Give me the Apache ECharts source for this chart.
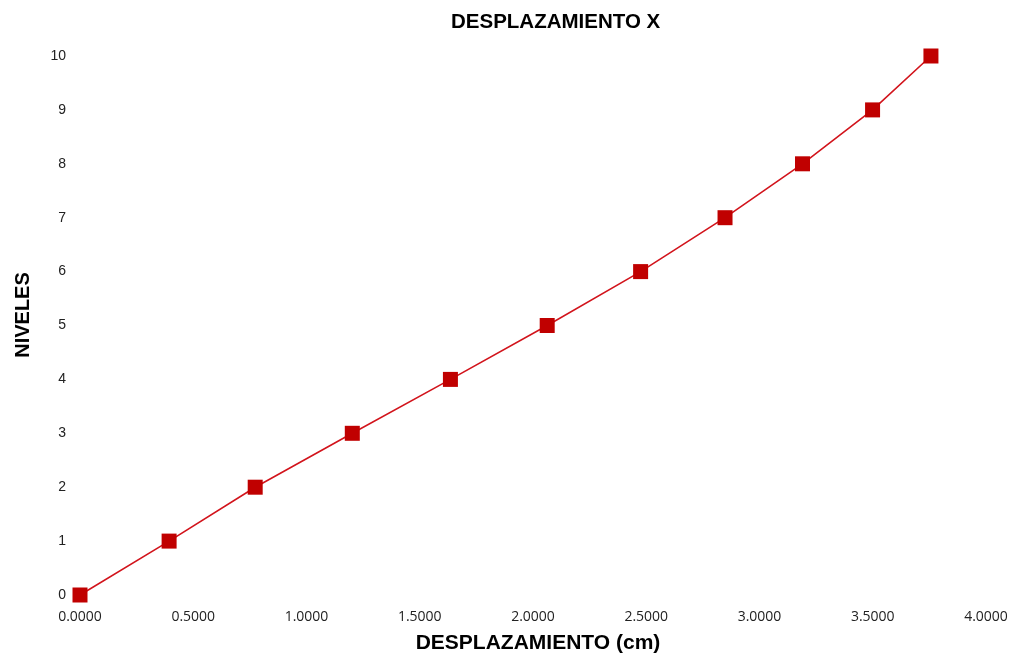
<!DOCTYPE html>
<html>
<head>
<meta charset="utf-8">
<script src="https://cdn.jsdelivr.net/npm/echarts@6/dist/echarts.min.js"></script>
<style>html,body{margin:0;padding:0;background:#fff}#c{width:1013px;height:655px}</style>
</head>
<body>
<div id="c"></div>
<script>
const title = 'DESPLAZAMIENTO X';
const xName = 'DESPLAZAMIENTO (cm)';
const yName = 'NIVELES';
const desplazamiento = [0.0000, 0.3934, 0.7735, 1.2022, 1.6354, 2.0627, 2.4751, 2.8478, 3.1898, 3.4992, 3.7569];
const niveles = [0, 1, 2, 3, 4, 5, 6, 7, 8, 9, 10];

const chart = echarts.init(document.getElementById('c'));
chart.setOption({
  backgroundColor: '#ffffff',
  animation: false,
  title: {
    text: title, left: 446, top: 7,
    textStyle: { fontFamily: 'Liberation Sans', fontWeight: 'bold', fontSize: 20.5, color: '#000' }
  },
  grid: { left: 80, right: 27, top: 56, bottom: 60, containLabel: false, outerBoundsMode: 'none' },
  xAxis: {
    type: 'value', min: 0, max: 4, interval: 0.5,
    name: xName, nameLocation: 'middle', nameGap: 38,
    nameTextStyle: { fontFamily: 'Liberation Sans', fontWeight: 'bold', fontSize: 21, color: '#000', padding: [0, 0, 0, 10] },
    axisLine: { show: false }, axisTick: { show: false }, splitLine: { show: false },
    axisLabel: { fontFamily: 'Open Sans', fontSize: 14, color: '#222', margin: 15,
      formatter: v => v.toFixed(4) }
  },
  yAxis: {
    type: 'value', min: 0, max: 10, interval: 1,
    name: yName, nameLocation: 'middle', nameGap: 47, nameRotate: 90,
    nameTextStyle: { fontFamily: 'Liberation Sans', fontWeight: 'bold', fontSize: 20, color: '#000', padding: [0, 0, 0, 21] },
    axisLine: { show: false }, axisTick: { show: false }, splitLine: { show: false },
    axisLabel: { fontFamily: 'Liberation Sans', fontSize: 14, color: '#222', margin: 14 }
  },
  series: [{
    type: 'line',
    data: desplazamiento.map((x, i) => [x, niveles[i]]),
    symbol: 'rect', symbolSize: 15,
    lineStyle: { color: '#d2141c', width: 1.6 },
    itemStyle: { color: '#c00000', borderWidth: 0 }
  }]
});
</script>
</body>
</html>
